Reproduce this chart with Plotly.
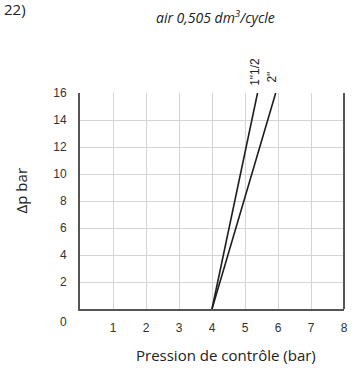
import plotly.graph_objects as go

# Data
series_names = ['1"1/2', '2"']
x_1_5 = [4.0, 5.38]
y_1_5 = [0, 16]
x_2 = [4.0, 5.93]
y_2 = [0, 16]
x_ticks = [1, 2, 3, 4, 5, 6, 7, 8]
y_ticks = [2, 4, 6, 8, 10, 12, 14, 16]

W, H = 353, 368
L, R, T, B = 79.5, 5.5, 93, 59

fig = go.Figure()
line_style = dict(color="#1e1e1e", width=1.6)
fig.add_trace(go.Scatter(x=x_1_5, y=y_1_5, mode="lines", line=line_style, showlegend=False, hoverinfo="skip"))
fig.add_trace(go.Scatter(x=x_2, y=y_2, mode="lines", line=line_style, showlegend=False, hoverinfo="skip"))

tickfont = dict(family="Liberation Sans, Arial", size=12, color="#333")
fig.update_xaxes(range=[0, 8], tickvals=x_ticks, ticktext=[str(v) for v in x_ticks],
                 showgrid=True, gridcolor="#d4d4d4", gridwidth=1, zeroline=False,
                 showline=True, linecolor="#555", linewidth=2,
                 ticks="", ticklabelstandoff=7, tickfont=tickfont, fixedrange=True)
fig.update_yaxes(range=[0, 16], tickvals=y_ticks, ticktext=[str(v) for v in y_ticks],
                 showgrid=True, gridcolor="#d4d4d4", gridwidth=1, zeroline=False,
                 showline=True, linecolor="#555", linewidth=2,
                 ticks="", ticklabelstandoff=9, tickfont=tickfont, fixedrange=True)

# right border
fig.add_shape(type="line", xref="x domain", yref="y domain", x0=1, x1=1, y0=0, y1=1,
              line=dict(color="#555", width=2))

lab_font = dict(family="Liberation Sans, Arial", size=12, color="#222")
ann = []
# origin "0" label
ann.append(dict(text="0", xref="paper", yref="paper", x=(63 - L) / (W - L - R), y=-(322 - (H - B)) / (H - T - B),
                showarrow=False, font=tickfont, xanchor="center", yanchor="middle"))
# series labels (rotated)
ann.append(dict(text=series_names[0], xref="paper", yref="paper", x=(257 - L) / (W - L - R), y=(H - B - 72) / (H - T - B),
                showarrow=False, textangle=-90, font=lab_font, xanchor="center", yanchor="middle"))
ann.append(dict(text=series_names[1], xref="paper", yref="paper", x=(274 - L) / (W - L - R), y=(H - B - 77) / (H - T - B),
                showarrow=False, textangle=-90, font=lab_font, xanchor="center", yanchor="middle"))
# title
ann.append(dict(text="<i>air 0,505 dm<sup>3</sup>/cycle</i>", xref="paper", yref="paper",
                x=(217 - L) / (W - L - R), y=(H - B - 17) / (H - T - B),
                showarrow=False, font=dict(family="Open Sans", size=14, color="#222"),
                xanchor="center", yanchor="middle"))
# "22)"
ann.append(dict(text="22)", xref="paper", yref="paper", x=(0 - L) / (W - L - R), y=(H - B - 9) / (H - T - B),
                showarrow=False, font=dict(family="Open Sans", size=15, color="#222"),
                xanchor="left", yanchor="middle"))
# x title
ann.append(dict(text="Pression de contrôle (bar)", xref="paper", yref="paper",
                x=(228 - L) / (W - L - R), y=-(355 - (H - B)) / (H - T - B),
                showarrow=False, font=dict(family="Open Sans", size=15, color="#222"),
                xanchor="center", yanchor="middle"))
# y title
ann.append(dict(text="Δp bar", xref="paper", yref="paper",
                x=(20 - L) / (W - L - R), y=(H - B - 191) / (H - T - B),
                showarrow=False, textangle=-90, font=dict(family="Open Sans", size=15, color="#222"),
                xanchor="center", yanchor="middle"))

fig.update_layout(width=W, height=H, margin=dict(l=L, r=R, t=T, b=B, pad=0),
                  paper_bgcolor="white", plot_bgcolor="white", annotations=ann, showlegend=False)

fig.write_html("out.html", config={"displayModeBar": False})
